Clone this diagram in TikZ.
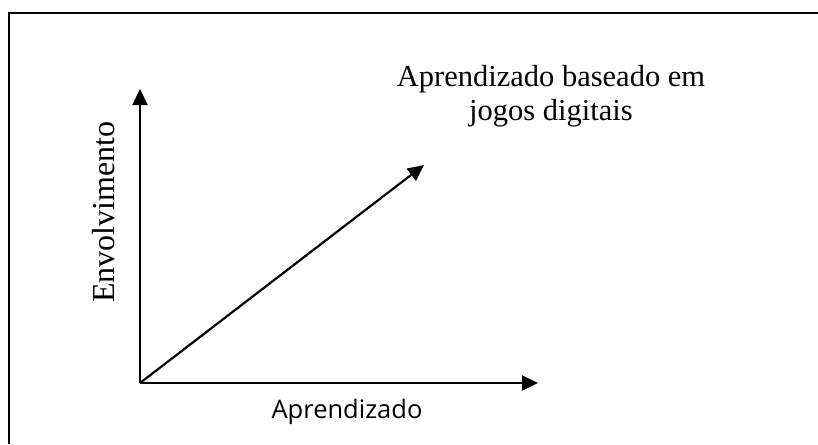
\documentclass[tikz,border=0pt]{standalone}
\usepackage{fontspec}
\setmainfont{Liberation Serif}
\newfontfamily\axisfont{Open Sans}
\usetikzlibrary{arrows.meta}

\begin{document}
\begin{tikzpicture}[x=1pt,y=-1pt,
        axis/.style={-{Triangle[length=16pt,width=15pt]},line width=2.2pt},
        lbl/.style={align=center,inner sep=0pt,font=\fontsize{30.5}{34}\selectfont}]
        \useasboundingbox (0,0) rectangle (818,444);
        \draw[line width=2.5pt] (9,444) -- (9,13) -- (818,13);
        \coordinate (o) at (140,383);
        \coordinate (ytip) at (140,89);
        \coordinate (xtip) at (538,383);
        \coordinate (dtip) at (424,165);
        \node[lbl] (title) at (551,96) {Aprendizado baseado em\\jogos digitais};
        \node[lbl,rotate=90,font=\fontsize{32}{36}\selectfont] (env) at (104,212) {Envolvimento};
        \node[inner sep=0pt,font=\axisfont\fontsize{25.5}{30}\selectfont] (apr) at (347,412) {Aprendizado};
        \draw[axis] (o) -- (ytip);
        \draw[axis] (o) -- (xtip);
        \draw[axis] (o) -- (dtip);
    \end{tikzpicture}
\end{document}
